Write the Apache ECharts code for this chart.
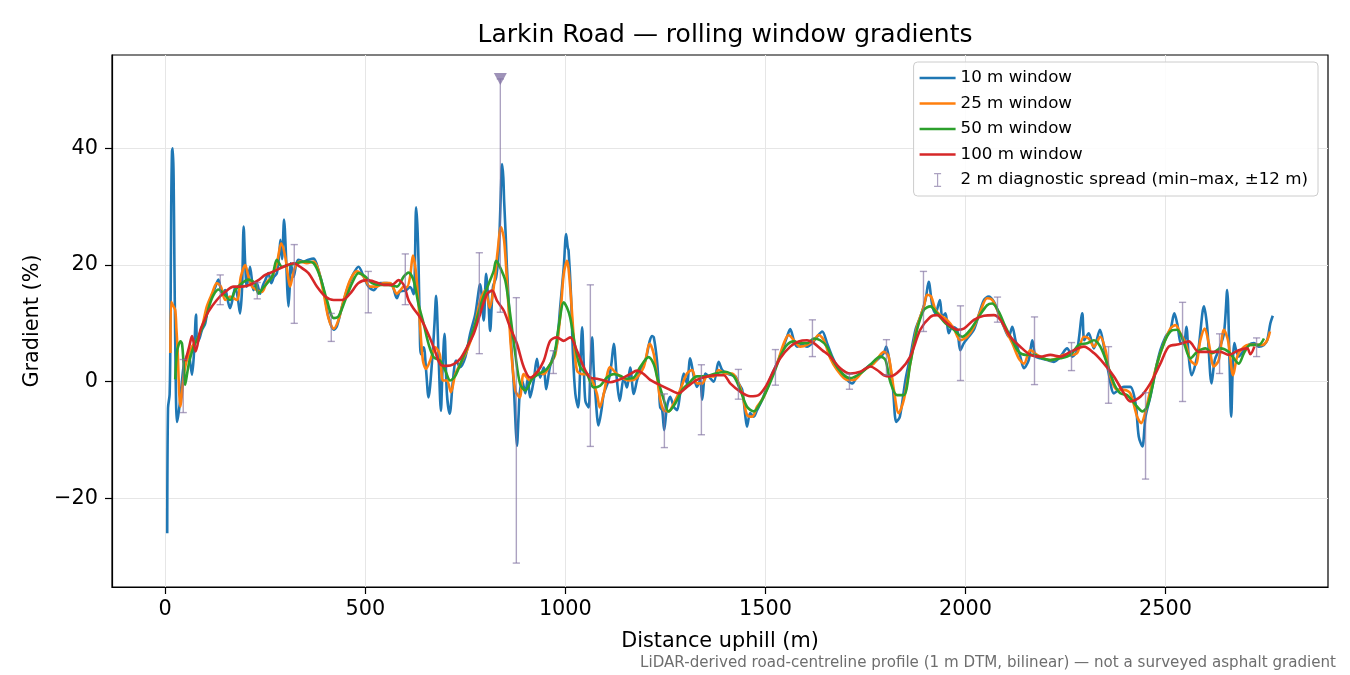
<!DOCTYPE html>
<html>
<head>
<meta charset="utf-8">
<title>Larkin Road gradients</title>
<script src="https://cdn.jsdelivr.net/npm/echarts@6/dist/echarts.min.js"></script>
<style>
  html, body { margin: 0; padding: 0; background: #fff; }
  #chart { width: 1350px; height: 675px; }
</style>
</head>
<body>
<div id="chart"></div>
<script>
// [distance (m), gradient (%)]
const w10 = [[5,-26],[7,-4.5],[11,-2.2],[13,8],[15,30],[17,39.5],[19,40],[21,35],[23,20],[25,7],[27,-3],[29,-6.9],[32,-6],[36,-4],[41,-0.5],[46,2.6],[52,4],[58,4.9],[63,3],[67,1.2],[72,5],[77,11.5],[80,6.8],[86,7.5],[92,8.9],[100,10],[108,13.2],[117,14.8],[124,16],[133,17.5],[142,15.1],[150,15.7],[156,14],[162,12.6],[168,14],[175,16.2],[181,14.5],[187,11.7],[192,16],[196,26.6],[200,20],[204,16.3],[212,19.7],[221,15.7],[229,16.9],[237,15.1],[244,16.5],[250,17.4],[258,18.6],[265,16.9],[272,18],[279,18.6],[285,22],[288,24.3],[292,21],[297,27.8],[302,21.4],[305,16],[308,12.9],[311,16],[314,20.3],[321,18],[327,20],[333,20.9],[346,20.6],[358,20.9],[371,21.1],[383,19.1],[396,15.7],[408,11.1],[421,8.9],[429,9.5],[442,12.9],[454,15.7],[462,17.2],[471,18.6],[483,19.7],[496,18],[508,16.3],[521,15.7],[537,16.9],[554,16.9],[567,16.6],[579,14.3],[587,15.5],[600,15.6],[612,16.2],[621,15],[624,20],[627,29.9],[630,27],[633,20.7],[636,10],[639,4.7],[646,5.9],[652,1.9],[658,-2.7],[667,3.6],[673,10],[677,14.7],[683,4.7],[689,-5],[693,2],[698,8.2],[704,-2.1],[711,-5.5],[719,0.2],[727,3.6],[737,2.5],[750,4.2],[762,8.2],[775,11.6],[787,16.7],[796,10.5],[802,18.5],[808,13.3],[812,8.7],[819,16.2],[827,17.9],[832,21],[836,26.5],[839,33],[842,37.3],[845,35],[847,31],[851,25],[854,19.6],[862,9.3],[871,-0.4],[876,-8],[879,-11],[883,-6],[886,-2],[892,0.2],[900,-2],[906,0.5],[912,-2.7],[921,0.2],[929,3.9],[937,0.7],[946,2.4],[952,-1.3],[961,2.4],[971,4.7],[979,6.5],[987,12.7],[996,19.6],[1002,25.3],[1006,23],[1008,22.5],[1014,15],[1019,4.7],[1025,-2.1],[1032,-4.4],[1037,2],[1042,9.3],[1046,3],[1050,-3.3],[1058,-4.4],[1062,1],[1067,7.6],[1071,2],[1075,-2.1],[1083,-7.5],[1090,-5],[1096,-2.1],[1108,0.2],[1115,3],[1121,6.5],[1129,0.2],[1136,-3.3],[1146,0.7],[1154,-1],[1162,2.4],[1171,-2.1],[1179,0.2],[1187,1.9],[1200,3.6],[1211,7],[1217,7.8],[1221,7.6],[1229,3.6],[1234,-1],[1237,-4.4],[1242,-4.9],[1247,-8.3],[1254,-4.3],[1262,-2.6],[1271,-4.3],[1279,-4.9],[1287,-2],[1296,1.4],[1304,-0.3],[1312,4],[1321,0.9],[1329,-0.9],[1337,0.3],[1342,-3.1],[1350,1.4],[1358,0.9],[1371,0],[1383,3.4],[1392,2],[1404,1.4],[1417,1.1],[1425,0.9],[1433,-0.3],[1442,-1.4],[1450,-6],[1454,-7.7],[1462,-5.4],[1471,-6],[1479,-4.9],[1492,-3.1],[1504,-0.9],[1517,1.4],[1529,3.1],[1542,5.4],[1554,7.7],[1562,9],[1571,7.1],[1579,6],[1592,6.3],[1604,6],[1617,6.6],[1629,7.7],[1642,8.6],[1654,6.6],[1667,4.3],[1679,2.6],[1692,1.4],[1704,0.3],[1717,-0.3],[1729,0.9],[1746,2],[1762,2.9],[1779,3.7],[1796,4.9],[1802,6],[1811,3.1],[1819,-1.4],[1827,-6.9],[1836,-6],[1850,0.3],[1862,4.3],[1875,8.9],[1887,11.1],[1900,14],[1908,17.1],[1917,13.1],[1925,11.7],[1936,14],[1942,11.1],[1950,11.7],[1958,8.3],[1967,9.4],[1979,8.9],[1987,5.4],[1996,6.6],[2008,7.7],[2021,8.9],[2033,11.4],[2046,14],[2058,14.6],[2071,13.7],[2083,11.7],[2096,9.4],[2108,7.7],[2117,9.4],[2125,7.1],[2137,4.3],[2146,2.3],[2158,3.7],[2167,7.1],[2175,4.3],[2187,4],[2204,3.7],[2221,3.4],[2237,4.3],[2254,5.7],[2267,4.3],[2279,5.4],[2292,11.7],[2297,7.1],[2308,8.3],[2321,5.7],[2336,8.9],[2346,6],[2358,1.4],[2371,-2],[2383,-1.4],[2396,-0.9],[2412,-0.9],[2425,-3.7],[2433,-9.4],[2442,-11.1],[2450,-6],[2462,-2.6],[2475,2],[2487,5.4],[2500,7.7],[2512,8.9],[2522,11.7],[2529,10],[2539,6.6],[2546,6.6],[2552,9.4],[2558,4.3],[2565,1.1],[2575,3.1],[2583,6],[2596,12.9],[2604,9.4],[2615,-0.3],[2623,3.7],[2633,5.4],[2646,8.3],[2654,15.7],[2660,3.1],[2664,-6],[2672,6.6],[2683,4.3],[2696,5.4],[2708,6.3],[2721,6.6],[2733,6],[2746,6.3],[2754,7.1],[2762,10],[2768,11.3]];

const w25 = [[13,4.9],[15,13.7],[20,13],[25,12.3],[28,9],[31,5.4],[35,-2],[38,-4.3],[42,-2],[46,0.9],[54,3.7],[67,6],[79,7.1],[92,9.4],[104,12.9],[117,15.1],[129,16.9],[139,16.3],[150,14],[162,14.6],[179,14],[189,18],[200,20],[208,18],[217,16.3],[229,15.7],[242,15.4],[254,17.1],[267,18],[279,20.3],[290,23.7],[300,21.4],[307,18],[312,16.3],[318,18],[325,19.7],[337,20.6],[354,20.3],[371,20.6],[383,19.1],[396,15.1],[408,10.9],[421,9.1],[433,10.6],[446,14],[462,17.4],[479,18.9],[496,18],[512,16.3],[529,16.3],[546,16.9],[562,16.9],[579,15.1],[587,15.6],[596,16.3],[604,16.2],[612,18],[619,21.6],[627,18.5],[636,10.5],[644,3.6],[652,2.2],[662,3.6],[675,5.9],[686,4.7],[694,0.2],[704,0.2],[714,-1.8],[725,1.3],[737,3],[754,5.3],[771,8.7],[787,13.9],[800,15.6],[811,12.7],[821,16.2],[831,22.5],[839,26.5],[847,24.2],[856,15],[864,5.9],[875,-1.5],[886,-2.7],[896,1.3],[912,0.2],[929,1.6],[946,1.3],[962,3],[975,4.7],[987,11],[996,18.5],[1004,20.7],[1012,16.2],[1021,7.6],[1029,1.9],[1042,1.3],[1054,1.3],[1067,0.2],[1079,-2.1],[1086,-4.4],[1096,-2.1],[1112,2.5],[1129,1.3],[1146,0.5],[1162,0.2],[1179,0.7],[1196,2.5],[1211,6.5],[1221,4.7],[1229,0.9],[1237,-3],[1246,-4.9],[1258,-5.1],[1271,-3.7],[1287,-1.4],[1304,1.4],[1317,2],[1329,-0.3],[1342,-0.3],[1354,0.9],[1371,0.9],[1383,2],[1400,1.4],[1417,1.4],[1429,0.3],[1442,-2],[1454,-5.7],[1467,-6],[1479,-4.3],[1496,-2.6],[1512,0.3],[1529,3.1],[1546,6.6],[1558,8],[1571,7.1],[1587,6],[1604,6.3],[1621,7.1],[1633,8],[1646,7.1],[1662,4],[1679,2],[1704,0.3],[1721,0.3],[1746,2],[1771,3.1],[1796,5.1],[1808,4.3],[1821,-1.4],[1833,-5.4],[1846,-3.1],[1862,3.1],[1879,9.4],[1896,12.9],[1904,14.9],[1914,14.6],[1925,12.3],[1937,11.4],[1954,10.6],[1971,9.1],[1987,7.1],[2004,7.7],[2021,9.4],[2037,12],[2054,14.3],[2067,14],[2083,11.7],[2100,8.9],[2117,6.6],[2133,4],[2146,3.1],[2162,5.4],[2179,4.6],[2196,4],[2212,3.7],[2229,4],[2246,4.6],[2262,4.6],[2279,4.9],[2296,7.7],[2308,7.4],[2321,6],[2337,7.7],[2350,5.4],[2362,0.9],[2379,-1.4],[2396,-1.4],[2412,-2],[2429,-6],[2439,-7.1],[2450,-5.1],[2462,-1.4],[2479,3.1],[2496,6.6],[2512,9.1],[2525,9.7],[2537,8.3],[2550,6.6],[2562,3.7],[2575,2.9],[2587,7.1],[2598,9.1],[2608,6.6],[2621,2.6],[2633,3.7],[2646,8.9],[2656,7.1],[2669,1.1],[2679,4.3],[2692,5.7],[2708,6.3],[2725,6.3],[2742,6.3],[2754,7.1],[2761,8.6]];

const w50 = [[25,0.4],[29,5],[33,6.2],[38,6.9],[42,6.5],[46,3],[50,-0.5],[55,1.5],[61,3.7],[71,6],[83,7.7],[100,10.6],[112,13.4],[121,14.9],[133,15.8],[146,15.1],[162,14],[175,15.7],[192,16.9],[208,17.5],[225,16.8],[233,15.1],[246,16.2],[267,18],[279,20.9],[292,19.7],[308,20],[329,20.3],[350,20.6],[371,20.3],[387,18],[404,14],[421,10.9],[433,11.2],[450,14],[467,16.9],[483,18.6],[500,18],[517,16.9],[537,16.6],[558,16.6],[579,16.3],[596,18],[608,18.7],[621,17.3],[633,13.3],[646,9.9],[658,6.5],[671,4.2],[687,3.6],[700,1.9],[712,0.2],[725,1],[741,3.6],[758,6.5],[775,9.9],[792,13.9],[808,16.7],[821,19],[827,20.7],[837,19.6],[850,17.3],[862,11.6],[875,4.7],[887,-0.4],[900,-1.5],[917,0.5],[933,1.3],[954,2.2],[971,4.2],[983,9.3],[996,13.6],[1004,12.7],[1012,11],[1025,5.9],[1037,2.5],[1054,1.3],[1071,-1],[1087,-0.7],[1104,0.7],[1121,1.3],[1137,1],[1154,0.5],[1171,0.7],[1187,2.5],[1208,4.2],[1221,3],[1229,0.9],[1246,-3.1],[1258,-5.1],[1275,-3.7],[1292,-1.4],[1308,-0.3],[1329,0.9],[1350,0.9],[1375,1.4],[1400,1.7],[1421,0.9],[1437,-1.4],[1454,-4.3],[1471,-5.1],[1487,-3.7],[1504,-1.4],[1521,1.4],[1537,4.3],[1554,6.3],[1571,6.9],[1587,6.6],[1604,6.6],[1621,7.4],[1637,7.1],[1654,6],[1671,3.4],[1692,1.4],[1712,0.6],[1737,1.4],[1762,2.9],[1787,4.3],[1800,3.7],[1812,0],[1829,-2.3],[1846,-2.3],[1862,3.1],[1879,8.9],[1896,12.3],[1912,12.9],[1929,11.7],[1950,10],[1971,8.9],[1992,7.7],[2012,8.9],[2033,11.1],[2054,13.1],[2067,13.4],[2083,12],[2100,9.4],[2117,7.1],[2133,5.1],[2150,4.6],[2171,4.6],[2192,4],[2212,3.7],[2237,4],[2262,4.6],[2283,6.3],[2304,6.6],[2321,7.1],[2337,6],[2354,3.1],[2371,-0.3],[2387,-2],[2404,-2.3],[2412,-2.9],[2429,-4.3],[2442,-5.1],[2454,-4.3],[2467,-0.9],[2479,3.1],[2496,6.6],[2512,8.6],[2529,8.9],[2546,6.6],[2562,4],[2579,5.1],[2600,5.7],[2617,4.9],[2637,5.7],[2658,5.1],[2683,3.1],[2696,4.9],[2712,6.3],[2733,6.3],[2746,7.4]];

const w100 = [[50,3.5],[60,6],[67,7.8],[76,5.2],[88,8.9],[98,10.5],[108,12],[129,14],[150,15.4],[171,16.3],[192,16.3],[212,16.6],[233,17.4],[250,18.3],[271,18.9],[296,19.7],[321,20.3],[337,19.7],[358,18.6],[379,16.3],[400,14.6],[421,14],[442,14],[462,15.1],[483,16.9],[504,17.4],[525,17.1],[546,16.6],[567,16.6],[583,17.4],[596,16.6],[608,14],[621,12.5],[637,11],[654,8.7],[671,5.9],[687,3],[704,2.7],[721,3],[737,3.9],[754,5.9],[771,8.2],[787,11.6],[804,15],[817,15.6],[829,13.9],[846,12.2],[862,9.3],[879,6.5],[896,2.5],[912,0.7],[929,1.6],[946,3.6],[962,7],[979,7.6],[996,7],[1012,7.6],[1029,5.3],[1046,2.5],[1062,0.7],[1079,0.5],[1096,0.2],[1112,-0.1],[1129,0.2],[1146,0.7],[1162,1.3],[1179,1.9],[1196,1.3],[1212,0.3],[1237,-0.6],[1262,-1.4],[1283,-2],[1304,-0.9],[1329,0.3],[1354,0.9],[1379,1.1],[1396,1.1],[1412,-0.3],[1437,-1.7],[1462,-2.5],[1483,-2.3],[1500,-0.9],[1517,1.4],[1537,4],[1562,6],[1583,6.9],[1604,7.1],[1621,6.6],[1642,5.4],[1662,4.3],[1687,2.3],[1712,1.4],[1737,1.7],[1762,2.6],[1779,2],[1796,1.1],[1812,0.9],[1837,2],[1862,4.3],[1887,8.9],[1912,11.1],[1929,11.4],[1954,10],[1979,8.9],[1996,9.1],[2021,10.6],[2046,11.3],[2071,11.4],[2087,10.6],[2112,7.7],[2137,6],[2162,4.6],[2187,4.3],[2212,4.6],[2237,4.3],[2262,5.1],[2296,6],[2321,4.9],[2346,3.1],[2371,0.9],[2396,-2],[2412,-3.4],[2437,-2.6],[2462,-0.3],[2487,3.1],[2508,6],[2533,6.4],[2558,6.9],[2583,5.1],[2612,5.1],[2637,5.1],[2658,4.6],[2683,5.4],[2704,5.7],[2712,4.7],[2722,6]];

// 2 m diagnostic spread: [distance, min, max]
const spread = [[45,-5.3,3.8],[137.5,13.2,18.3],[230,14.2,17.0],[322.5,10.0,23.5],[415,6.9,11.7],[507.5,11.8,18.9],[600,13.2,21.9],[785,4.8,22.1],[837.5,11.9,51.9],[877.5,-31.1,14.4],[970,1.4,5.3],[1062.5,-11.1,16.6],[1247.5,-11.3,-2.1],[1340,-9.1,2.9],[1432.5,-3.0,2.1],[1525,-0.6,5.5],[1617.5,4.3,10.6],[1710,-1.3,1.3],[1802.5,1.1,7.2],[1895,8.6,18.9],[1987.5,0.2,13.0],[2080,10.2,14.5],[2172.5,-0.5,11.1],[2265,1.9,6.7],[2357.5,-3.7,6.0],[2450,-16.7,-1.9],[2542.5,-3.4,13.6],[2635,1.4,8.2],[2727.5,4.3,7.5]];
// point whose spread runs off the top of the axis
const spreadClipped = [[837.5,51.9]];

const xTicks = [0, 500, 1000, 1500, 2000, 2500];
const yTicks = [-20, 0, 20, 40];

const names = ['10 m window', '25 m window', '50 m window', '100 m window'];
const colors = ['#1f77b4', '#ff7f0e', '#2ca02c', '#d62728'];
const spreadName = '2 m diagnostic spread (min\u2013max, \u00b112 m)';
const spreadColor = 'rgba(128,112,160,0.65)';

const chart = echarts.init(document.getElementById('chart'), null, { renderer: 'canvas' });

const lineSeries = [w10, w25, w50, w100].map((d, i) => ({
  name: names[i],
  type: 'line',
  data: d,
  showSymbol: false,
  symbol: 'none',
  smooth: 0.3,
  color: colors[i],
  lineStyle: { width: 2.6, color: colors[i] },
  z: 2 + i * 0.1,
  animation: false
}));

// legend handles: a short flat bar for the lines, an I-beam for the spread
const lineIcon = 'path://M0,0H36V2.6H0Z';

const option = {
  animation: false,
  textStyle: { fontFamily: 'DejaVu Sans' },
  title: [
    {
      text: 'Larkin Road \u2014 rolling window gradients',
      left: 720, top: 18, textAlign: 'center',
      textStyle: { fontSize: 25, fontWeight: 'normal', color: '#000', fontFamily: 'DejaVu Sans' }
    },
    {
      text: 'LiDAR-derived road-centreline profile (1 m DTM, bilinear) \u2014 not a surveyed asphalt gradient',
      right: 9, top: 651,
      textStyle: { fontSize: 15.1, fontWeight: 'normal', color: '#6e6e6e', fontFamily: 'DejaVu Sans' }
    }
  ],
  grid: { left: 112, top: 55, width: 1216, height: 532, show: true, borderColor: '#000', borderWidth: 1.2, backgroundColor: 'transparent' },
  legend: {
    orient: 'vertical',
    right: 32, top: 62,
    itemWidth: 36, itemHeight: 14, itemGap: 5.5,
    padding: [6, 10, 6, 6],
    backgroundColor: 'rgba(255,255,255,0.85)',
    borderColor: '#cccccc', borderWidth: 1, borderRadius: 4,
    textStyle: { fontSize: 16.7, color: '#000', fontFamily: 'DejaVu Sans', lineHeight: 20 },
    data: names.map((n, i) => ({ name: n, icon: lineIcon, itemStyle: { color: colors[i] } })).concat([{
      name: spreadName,
      icon: 'path://M0,0H7V1.2H4.1V12.8H7V14H0V12.8H2.9V1.2H0Z',
      itemStyle: { color: spreadColor }
    }])
  },
  xAxis: {
    type: 'value', min: -133, max: 2906,
    name: 'Distance uphill (m)', nameLocation: 'middle', nameGap: 44,
    nameTextStyle: { fontSize: 20.8, color: '#000' },
    axisLine: { show: true, onZero: false, lineStyle: { color: '#000', width: 1.2 } },
    axisTick: { show: true, length: 7, customValues: xTicks, lineStyle: { color: '#000', width: 1.2 } },
    axisLabel: { customValues: xTicks, fontSize: 20.8, color: '#000', margin: 12, formatter: v => String(v) },
    splitLine: { show: true, lineStyle: { color: '#e6e6e6', width: 1 } }
  },
  yAxis: {
    type: 'value', min: -35.2, max: 56.0,
    name: 'Gradient (%)', nameLocation: 'middle', nameGap: 66, nameRotate: 90,
    nameTextStyle: { fontSize: 20.8, color: '#000' },
    axisLine: { show: true, onZero: false, lineStyle: { color: '#000', width: 1.2 } },
    axisTick: { show: true, length: 7, customValues: yTicks, lineStyle: { color: '#000', width: 1.2 } },
    axisLabel: {
      customValues: yTicks, fontSize: 20.8, color: '#000', margin: 14,
      formatter: v => (v < 0 ? '\u2212' + Math.abs(v) : String(v))
    },
    splitLine: { show: true, lineStyle: { color: '#e6e6e6', width: 1 } }
  },
  series: lineSeries.concat([
    {
      name: spreadName,
      type: 'custom',
      data: spread,
      encode: { x: 0, y: [1, 2] },
      color: spreadColor,
      itemStyle: { color: spreadColor },
      z: 3,
      clip: true,
      renderItem: function (params, api) {
        const x = api.value(0);
        const lo = api.coord([x, api.value(1)]);
        const hi = api.coord([x, api.value(2)]);
        const cap = 3.6;
        const style = { stroke: spreadColor, lineWidth: 1.4, fill: null };
        return {
          type: 'group',
          children: [
            { type: 'line', shape: { x1: lo[0], y1: lo[1], x2: hi[0], y2: hi[1] }, style: style },
            { type: 'line', shape: { x1: lo[0] - cap, y1: lo[1], x2: lo[0] + cap, y2: lo[1] }, style: style },
            { type: 'line', shape: { x1: hi[0] - cap, y1: hi[1], x2: hi[0] + cap, y2: hi[1] }, style: style }
          ]
        };
      }
    },
    {
      name: 'clipped spread',
      type: 'scatter',
      data: spreadClipped,
      symbol: 'triangle',
      symbolRotate: 180,
      symbolSize: [13, 12],
      itemStyle: { color: '#8677a6' },
      z: 4
    }
  ])
};

chart.setOption(option);
</script>
</body>
</html>
